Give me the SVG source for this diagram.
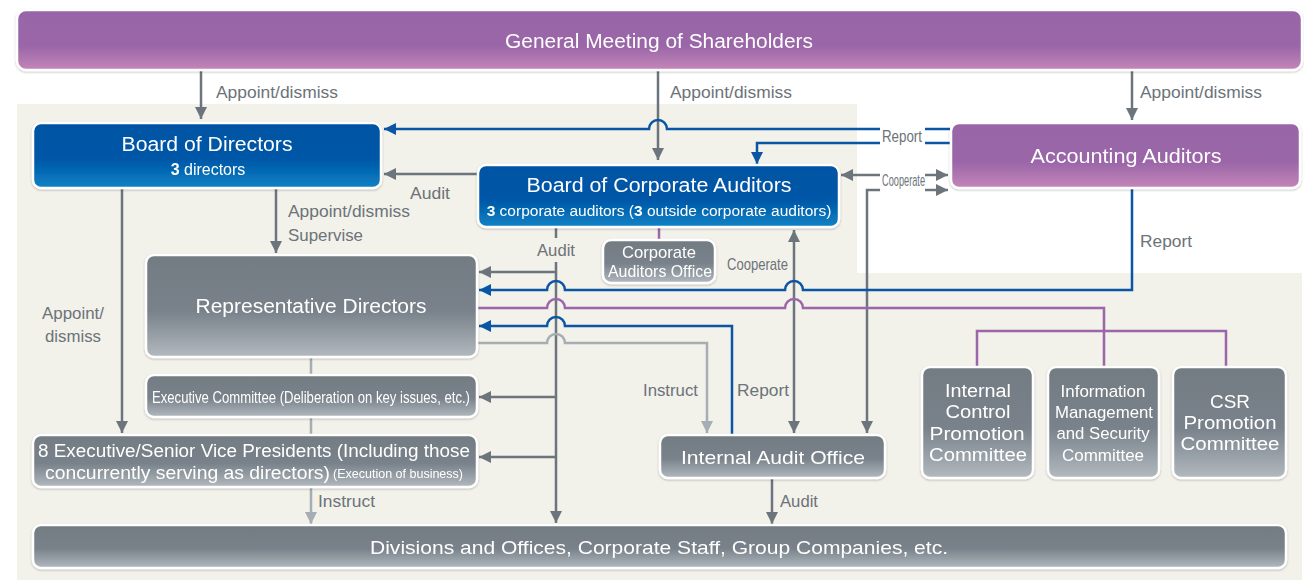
<svg xmlns="http://www.w3.org/2000/svg" width="1304" height="585" viewBox="0 0 1304 585">
<style>
text{font-family:"Liberation Sans",Arial,sans-serif}
.w{fill:#fff}
.lb{fill:#6c7379;font-size:17px}
.box{stroke:#fff;stroke-width:2.5}
.g{fill:none;stroke:#6d757c;stroke-width:2.5}
.lg{fill:none;stroke:#a6adb3;stroke-width:2.5}
.b{fill:none;stroke:#0a56a5;stroke-width:2.5}
.p{fill:none;stroke:#9b66aa;stroke-width:2.5}
</style>
<defs>
<linearGradient id="gp" x1="0" y1="0" x2="0" y2="1"><stop offset="0" stop-color="#9866a8"/><stop offset="0.6" stop-color="#9a66a8"/><stop offset="1" stop-color="#c486b9"/></linearGradient>
<linearGradient id="gb" x1="0" y1="0" x2="0" y2="1"><stop offset="0" stop-color="#0053a3"/><stop offset="0.55" stop-color="#0057a7"/><stop offset="1" stop-color="#0c82c5"/></linearGradient>
<linearGradient id="gg" x1="0" y1="0" x2="0" y2="1"><stop offset="0" stop-color="#737c83"/><stop offset="0.55" stop-color="#79828a"/><stop offset="1" stop-color="#b2b9bf"/></linearGradient>
<filter id="sh" x="-5%" y="-10%" width="110%" height="130%"><feDropShadow dx="0" dy="1" stdDeviation="1.2" flood-color="#000" flood-opacity="0.25"/></filter>
<marker id="ag" viewBox="0 0 10 10" refX="10" refY="5" markerWidth="12" markerHeight="12" markerUnits="userSpaceOnUse" orient="auto"><path d="M0,0 L10,5 L0,10 z" fill="#6d757c"/></marker>
<marker id="ab" viewBox="0 0 10 10" refX="10" refY="5" markerWidth="12" markerHeight="12" markerUnits="userSpaceOnUse" orient="auto"><path d="M0,0 L10,5 L0,10 z" fill="#0a56a5"/></marker>
<marker id="al" viewBox="0 0 10 10" refX="10" refY="5" markerWidth="12" markerHeight="12" markerUnits="userSpaceOnUse" orient="auto"><path d="M0,0 L10,5 L0,10 z" fill="#a6adb3"/></marker>
<marker id="ags" viewBox="0 0 10 10" refX="0" refY="5" markerWidth="12" markerHeight="12" markerUnits="userSpaceOnUse" orient="auto"><path d="M10,0 L0,5 L10,10 z" fill="#6d757c"/></marker>
</defs>
<rect width="1304" height="585" fill="#fff"/>
<path d="M17,104 H857 V273 H1302 V580 H17 Z" fill="#f2f1ea"/>

<g id="connectors">
<path class="g" d="M201,71 V119" marker-end="url(#ag)"/>
<path class="g" d="M658,71 V160" marker-end="url(#ag)"/>
<path class="g" d="M1132,71 V120" marker-end="url(#ag)"/>
<path class="b" d="M880,129 H667 A9,9 0 0 0 649,129 H384" marker-end="url(#ab)"/>
<path class="b" d="M880,143 H757 V164" marker-end="url(#ab)"/>
<path class="b" d="M925,129 H950"/>
<path class="b" d="M925,143 H950"/>
<path class="g" d="M880,175 H841" marker-end="url(#ag)"/>
<path class="g" d="M925,175 H948" marker-end="url(#ag)"/>
<path class="g" d="M925,190 H948" marker-end="url(#ag)"/>
<path class="g" d="M880,190 H867 V433" marker-end="url(#ag)"/>
<path class="g" d="M478,174 H384" marker-end="url(#ag)"/>
<path class="g" d="M276,189 V253" marker-end="url(#ag)"/>
<path class="g" d="M122,189 V433" marker-end="url(#ag)"/>
<path class="g" d="M556,227 V238"/>
<path class="g" d="M556,262 V523" marker-end="url(#ag)"/>
<path class="g" d="M556,272 H479" marker-end="url(#ag)"/>
<path class="g" d="M556,397 H479" marker-end="url(#ag)"/>
<path class="g" d="M556,457 H479" marker-end="url(#ag)"/>
<path class="p" d="M659,227 V240"/>
<path class="g" d="M794,230 V433" marker-start="url(#ags)" marker-end="url(#ag)"/>
<path class="b" d="M1132,189 V290 H803 A9,9 0 0 0 785,290 H565 A9,9 0 0 0 547,290 H479" marker-end="url(#ab)"/>
<path class="p" d="M478,308 H547 A9,9 0 0 1 565,308 H785 A9,9 0 0 1 803,308 H1104 V367"/>
<path class="p" d="M977,367 V331 H1226 V367"/>
<path class="b" d="M732,435 V326 H565 A9,9 0 0 0 547,326 H479" marker-end="url(#ab)"/>
<path class="lg" d="M478,343 H547 A9,9 0 0 1 565,343 H707 V433" marker-end="url(#al)"/>
<path class="lg" d="M311,358 V375 M311,418 V435"/>
<path class="lg" d="M311,488 V524" marker-end="url(#al)"/>
<path class="g" d="M772,479 V524" marker-end="url(#ag)"/>
</g>

<g id="labels">
<text class="lb" x="216" y="98" textLength="122" lengthAdjust="spacingAndGlyphs">Appoint/dismiss</text>
<text class="lb" x="670" y="98" textLength="122" lengthAdjust="spacingAndGlyphs">Appoint/dismiss</text>
<text class="lb" x="1140" y="98" textLength="122" lengthAdjust="spacingAndGlyphs">Appoint/dismiss</text>
<text class="lb" x="882" y="142" font-size="14" textLength="40" lengthAdjust="spacingAndGlyphs">Report</text>
<text class="lb" x="882" y="186" font-size="13" textLength="43" lengthAdjust="spacingAndGlyphs">Cooperate</text>
<text class="lb" x="410" y="199" textLength="40" lengthAdjust="spacingAndGlyphs">Audit</text>
<text class="lb" x="288" y="217" textLength="122" lengthAdjust="spacingAndGlyphs">Appoint/dismiss</text>
<text class="lb" x="288" y="241" textLength="75" lengthAdjust="spacingAndGlyphs">Supervise</text>
<text class="lb" x="556" y="256" text-anchor="middle" textLength="38" lengthAdjust="spacingAndGlyphs">Audit</text>
<text class="lb" x="727" y="270" font-size="15" textLength="61" lengthAdjust="spacingAndGlyphs">Cooperate</text>
<text class="lb" x="1140" y="247" textLength="52" lengthAdjust="spacingAndGlyphs">Report</text>
<text class="lb" x="73" y="319" text-anchor="middle" textLength="62" lengthAdjust="spacingAndGlyphs">Appoint/</text>
<text class="lb" x="73" y="342" text-anchor="middle" textLength="56" lengthAdjust="spacingAndGlyphs">dismiss</text>
<text class="lb" x="698" y="396" text-anchor="end" textLength="55" lengthAdjust="spacingAndGlyphs">Instruct</text>
<text class="lb" x="737" y="396" textLength="52" lengthAdjust="spacingAndGlyphs">Report</text>
<text class="lb" x="318" y="507" font-size="16" textLength="57" lengthAdjust="spacingAndGlyphs">Instruct</text>
<text class="lb" x="780" y="507" font-size="16" textLength="38" lengthAdjust="spacingAndGlyphs">Audit</text>
</g>

<g id="gms" filter="url(#sh)">
<rect class="box" x="17" y="10" width="1285" height="60" rx="9" fill="url(#gp)"/>
<text class="w" x="659" y="48" font-size="20" text-anchor="middle" textLength="308" lengthAdjust="spacingAndGlyphs">General Meeting of Shareholders</text>
</g>
<g id="bod" filter="url(#sh)">
<rect class="box" x="33" y="123" width="348" height="65" rx="8" fill="url(#gb)"/>
<text class="w" x="207" y="151" font-size="20" text-anchor="middle" textLength="171" lengthAdjust="spacingAndGlyphs">Board of Directors</text>
<text class="w" x="208" y="175" font-size="16" text-anchor="middle"><tspan font-weight="bold">3</tspan> directors</text>
</g>
<g id="boca" filter="url(#sh)">
<rect class="box" x="478" y="165" width="361" height="62" rx="8" fill="url(#gb)"/>
<text class="w" x="659" y="192" font-size="20" text-anchor="middle" textLength="265" lengthAdjust="spacingAndGlyphs">Board of Corporate Auditors</text>
<text class="w" x="659" y="216" font-size="15.5" text-anchor="middle"><tspan font-weight="bold">3</tspan> corporate auditors (<tspan font-weight="bold">3</tspan> outside corporate auditors)</text>
</g>
<g id="aa" filter="url(#sh)">
<rect class="box" x="951" y="123" width="349" height="65" rx="8" fill="url(#gp)"/>
<text class="w" x="1126" y="163" font-size="20" text-anchor="middle" textLength="191" lengthAdjust="spacingAndGlyphs">Accounting Auditors</text>
</g>
<g id="cao" filter="url(#sh)">
<rect class="box" x="603" y="240" width="112" height="43" rx="8" fill="url(#gg)"/>
<text class="w" x="659" y="258" font-size="17" text-anchor="middle" textLength="74" lengthAdjust="spacingAndGlyphs">Corporate</text>
<text class="w" x="660" y="277" font-size="17" text-anchor="middle" textLength="104" lengthAdjust="spacingAndGlyphs">Auditors Office</text>
</g>
<g id="repdir" filter="url(#sh)">
<rect class="box" x="146" y="255" width="331" height="102" rx="8" fill="url(#gg)"/>
<text class="w" x="311" y="313" font-size="20" text-anchor="middle" textLength="231" lengthAdjust="spacingAndGlyphs">Representative Directors</text>
</g>
<g id="execcom" filter="url(#sh)">
<rect class="box" x="146" y="375" width="331" height="42" rx="8" fill="url(#gg)"/>
<text class="w" x="311" y="403" font-size="16" text-anchor="middle" textLength="318" lengthAdjust="spacingAndGlyphs">Executive Committee (Deliberation on key issues, etc.)</text>
</g>
<g id="execvp" filter="url(#sh)">
<rect class="box" x="33" y="435" width="444" height="52" rx="8" fill="url(#gg)"/>
<text class="w" x="254" y="457" font-size="18" text-anchor="middle" textLength="432" lengthAdjust="spacingAndGlyphs">8 Executive/Senior Vice Presidents (Including those</text>
<text class="w" x="45" y="479" font-size="18" textLength="285" lengthAdjust="spacingAndGlyphs">concurrently serving as directors)</text>
<text class="w" x="333" y="478" font-size="13" textLength="130" lengthAdjust="spacingAndGlyphs">(Execution of business)</text>
</g>
<g id="iao" filter="url(#sh)">
<rect class="box" x="660" y="435" width="225" height="43" rx="8" fill="url(#gg)"/>
<text class="w" x="773" y="464" font-size="19" text-anchor="middle" textLength="184" lengthAdjust="spacingAndGlyphs">Internal Audit Office</text>
</g>
<g id="icpc" filter="url(#sh)">
<rect class="box" x="922" y="367" width="111" height="111" rx="8" fill="url(#gg)"/>
<text class="w" x="978" y="397" font-size="18" text-anchor="middle" textLength="66" lengthAdjust="spacingAndGlyphs">Internal</text>
<text class="w" x="978" y="418" font-size="18" text-anchor="middle" textLength="65" lengthAdjust="spacingAndGlyphs">Control</text>
<text class="w" x="977" y="440" font-size="18" text-anchor="middle" textLength="95" lengthAdjust="spacingAndGlyphs">Promotion</text>
<text class="w" x="978" y="461" font-size="18" text-anchor="middle" textLength="98" lengthAdjust="spacingAndGlyphs">Committee</text>
</g>
<g id="imsc" filter="url(#sh)">
<rect class="box" x="1048" y="367" width="111" height="111" rx="8" fill="url(#gg)"/>
<text class="w" x="1103" y="397" font-size="17" text-anchor="middle" textLength="85" lengthAdjust="spacingAndGlyphs">Information</text>
<text class="w" x="1104" y="418" font-size="17" text-anchor="middle" textLength="98" lengthAdjust="spacingAndGlyphs">Management</text>
<text class="w" x="1103" y="439" font-size="17" text-anchor="middle" textLength="93" lengthAdjust="spacingAndGlyphs">and Security</text>
<text class="w" x="1103" y="461" font-size="17" text-anchor="middle" textLength="82" lengthAdjust="spacingAndGlyphs">Committee</text>
</g>
<g id="csr" filter="url(#sh)">
<rect class="box" x="1173" y="367" width="113" height="111" rx="8" fill="url(#gg)"/>
<text class="w" x="1230" y="408" font-size="18" text-anchor="middle" textLength="40" lengthAdjust="spacingAndGlyphs">CSR</text>
<text class="w" x="1230" y="429" font-size="18" text-anchor="middle" textLength="93" lengthAdjust="spacingAndGlyphs">Promotion</text>
<text class="w" x="1230" y="450" font-size="18" text-anchor="middle" textLength="99" lengthAdjust="spacingAndGlyphs">Committee</text>
</g>
<g id="divisions" filter="url(#sh)">
<rect class="box" x="33" y="525" width="1253" height="43" rx="8" fill="url(#gg)"/>
<text class="w" x="659" y="554" font-size="19" text-anchor="middle" textLength="578" lengthAdjust="spacingAndGlyphs">Divisions and Offices, Corporate Staff, Group Companies, etc.</text>
</g>
</svg>
